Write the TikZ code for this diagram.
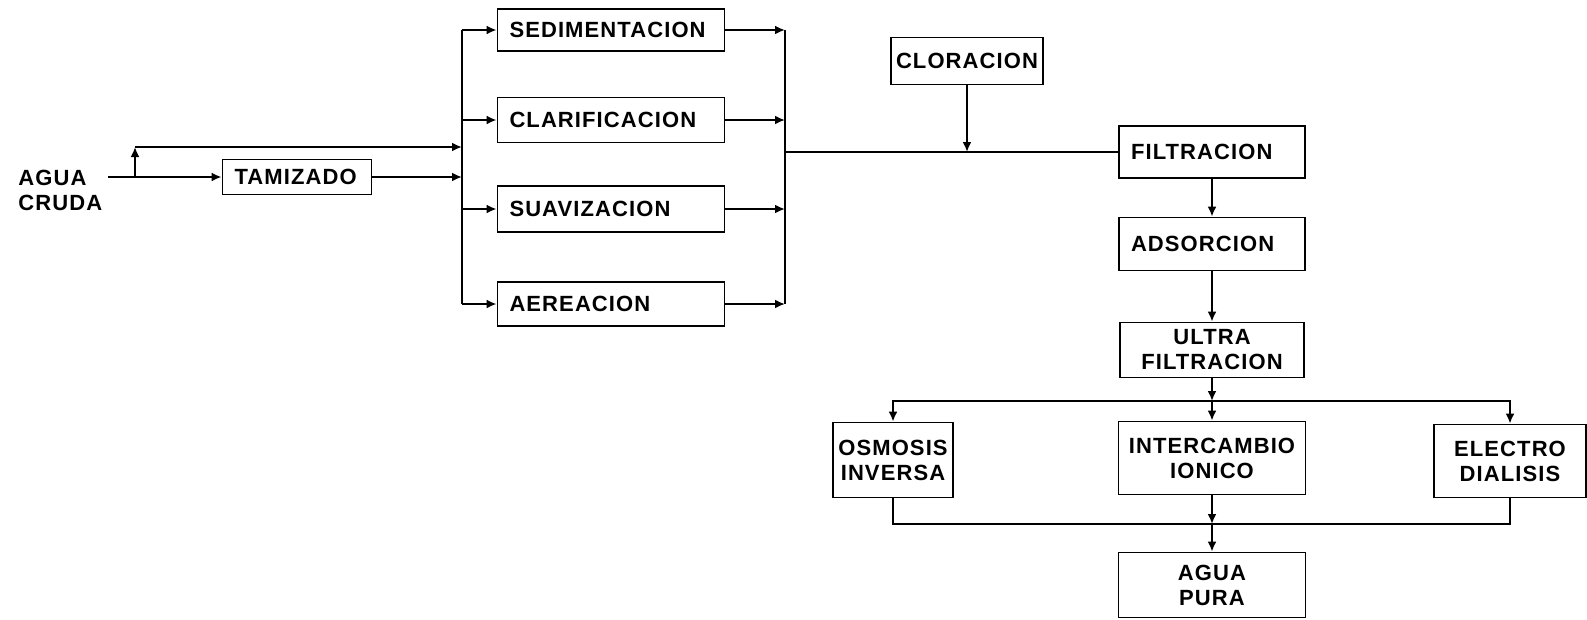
\documentclass[tikz,border=0pt]{standalone}
\usepackage{fontspec}
\setmainfont{Liberation Sans}[LetterSpace=5]
\usetikzlibrary{arrows.meta}

\begin{document}
\begin{tikzpicture}[x=1pt,y=-1pt,
    font=\bfseries\fontsize{22}{25}\selectfont,
    line width=2.2pt,
    >={Latex[length=10pt,width=9pt]},
    procbox/.style={draw,line width=1.8pt,inner xsep=12pt,inner ysep=0pt,align=left},
    pairbox/.style={draw,line width=1.8pt,inner sep=0pt,align=center}]
    \useasboundingbox (0,0) rectangle (1587,619);

    % Raw water and screening.
    \node[anchor=west,align=left] (cruda) at (14,190) {AGUA\\CRUDA};
    \node[procbox,text width=125pt,minimum height=35pt] (tamiz) at (297,177) {TAMIZADO};
    \coordinate (inlet) at (108,177);
    \coordinate (split) at (135,177);
    \coordinate (splitup) at (135,147);
    \coordinate (lbus) at (462,152);
    \coordinate (rbus) at (785,152);

    % Parallel pre-treatment stages.
    \node[procbox,text width=203pt,minimum height=42pt] (sedim) at (611,30) {SEDIMENTACION};
    \node[procbox,text width=203pt,minimum height=45pt] (clarif) at (611,120) {CLARIFICACION};
    \node[procbox,text width=203pt,minimum height=46pt] (suaviz) at (611,209) {SUAVIZACION};
    \node[procbox,text width=203pt,minimum height=44pt] (aerea) at (611,304) {AEREACION};

    % Main treatment line.
    \node[procbox,inner xsep=5pt,minimum height=47pt] (clor) at (967,61) {CLORACION};
    \node[procbox,text width=162pt,minimum height=52pt] (filt) at (1212,152) {FILTRACION};
    \node[procbox,text width=162pt,minimum height=53pt] (adsor) at (1212,244) {ADSORCION};
    \node[pairbox,minimum width=184pt,minimum height=55pt] (ultra) at (1212,350) {ULTRA\\FILTRACION};

    % Final demineralisation options.
    \node[pairbox,minimum width=120pt,minimum height=75pt] (osmo) at (893,460) {OSMOSIS\\INVERSA};
    \node[pairbox,minimum width=187pt,minimum height=73pt] (inter) at (1212,458) {INTERCAMBIO\\IONICO};
    \node[pairbox,minimum width=152pt,minimum height=73pt] (electro) at (1510,461) {ELECTRO\\DIALISIS};
    \node[pairbox,minimum width=187pt,minimum height=65pt] (pura) at (1212,585) {AGUA\\PURA};
    \coordinate (dist) at (1212,401);
    \coordinate (coll) at (1212,524);

    % Screening and bypass into the left bus.
    \draw[->] (inlet) -- (tamiz.west);
    \draw[->] (split) -- (splitup);
    \draw[->] (splitup) -- (splitup -| lbus);
    \draw[->] (tamiz.east) -- (tamiz.east -| lbus);
    \draw (sedim.west -| lbus) -- (aerea.west -| lbus);
    \draw[->] (sedim.west -| lbus) -- (sedim.west);
    \draw[->] (clarif.west -| lbus) -- (clarif.west);
    \draw[->] (suaviz.west -| lbus) -- (suaviz.west);
    \draw[->] (aerea.west -| lbus) -- (aerea.west);

    % Right bus and chlorination.
    \draw (sedim.east -| rbus) -- (aerea.east -| rbus);
    \draw[->] (sedim.east) -- (sedim.east -| rbus);
    \draw[->] (clarif.east) -- (clarif.east -| rbus);
    \draw[->] (suaviz.east) -- (suaviz.east -| rbus);
    \draw[->] (aerea.east) -- (aerea.east -| rbus);
    \draw (rbus) -- (filt.west);
    \draw[->] (clor.south) -- (clor.south |- rbus);

    % Vertical chain.
    \draw[->] (filt.south) -- (adsor.north);
    \draw[->] (adsor.south) -- (ultra.north);
    \draw[->] (ultra.south) -- (dist);
    \draw[->] (dist) -- (inter.north);
    \draw[->] (dist) -| (osmo.north);
    \draw[->] (dist) -| (electro.north);
    \draw (osmo.south) |- (coll);
    \draw (electro.south) |- (coll);
    \draw[->] (inter.south) -- (coll);
    \draw[->] (coll) -- (pura.north);
\end{tikzpicture}
\end{document}
